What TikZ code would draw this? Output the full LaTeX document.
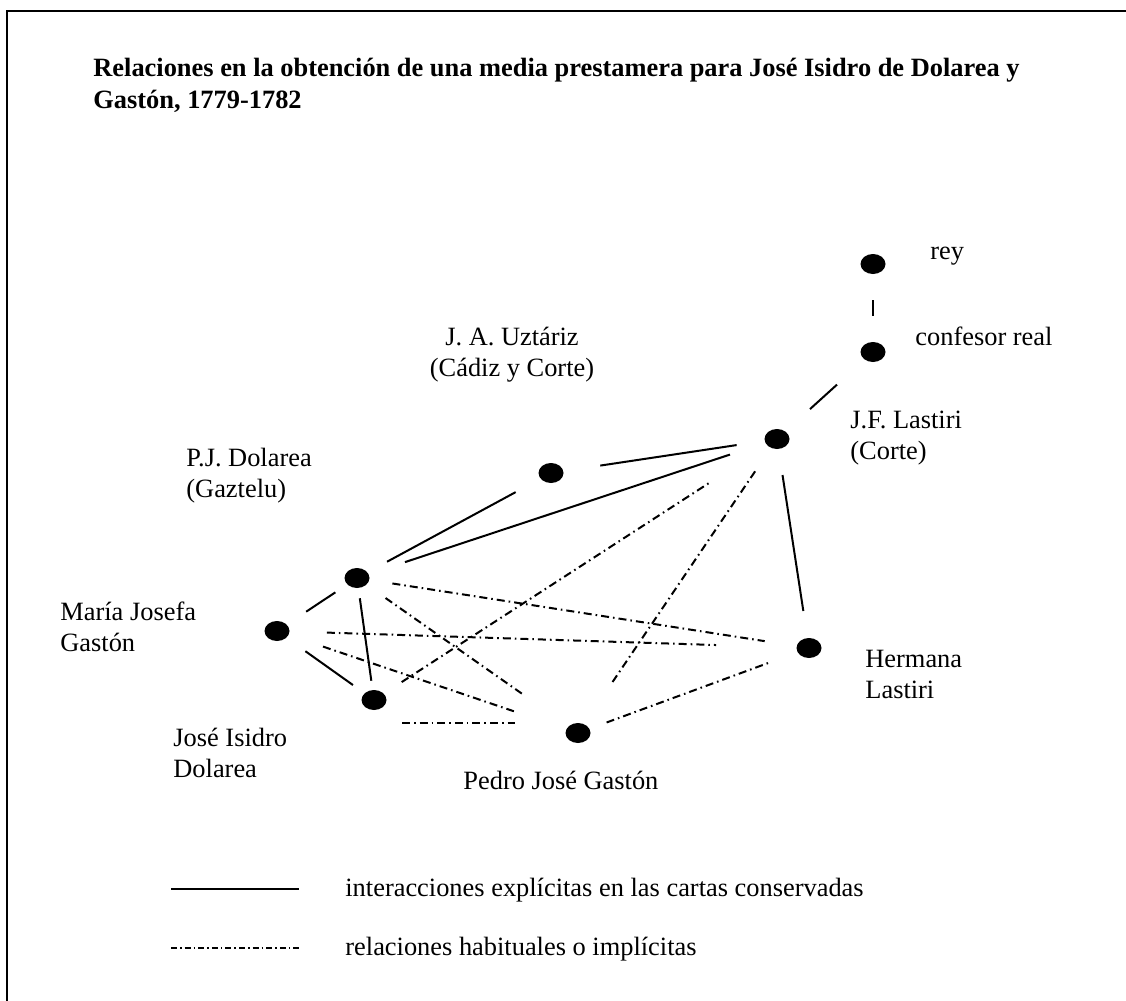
\documentclass[tikz,border=0pt]{standalone}
\usepackage{fontspec}
\setmainfont{Liberation Serif}
\usetikzlibrary{shapes.geometric}

\begin{document}
\begin{tikzpicture}[x=0.5pt, y=-0.5pt,
    person/.style={ellipse, fill=black, minimum width=12.5pt, minimum height=10pt, inner sep=0pt},
    lbl/.style={font=\fontsize{13.2}{15.5}\selectfont, inner sep=0pt, align=left, anchor=west},
    explicit/.style={line width=1pt},
    implicit/.style={line width=1pt, dash pattern=on 4pt off 2pt on 0.8pt off 2pt}]
    \useasboundingbox (0,0) rectangle (1126,1001);

    % Frame
    \draw[line width=1pt] (7,1001) -- (7,11) -- (1126,11);

    % Title
    \node[lbl, font=\fontsize{13.2}{16}\selectfont\bfseries] (title) at (93,85)
        {Relaciones en la obtención de una media prestamera para José Isidro de Dolarea y\\ Gastón, 1779-1782};

    % Nodes
    \node[person] (rey)  at (873,264) {};
    \node[person] (conf) at (873,352) {};
    \node[person] (jfl)  at (777,439) {};
    \node[person] (uzt)  at (551,473) {};
    \node[person] (pjd)  at (357,578) {};
    \node[person] (mjg)  at (277,631) {};
    \node[person] (jid)  at (374,700) {};
    \node[person] (pjg)  at (578,733) {};
    \node[person] (hla)  at (809,648) {};

    % Labels
    \node[lbl] (rey-l)  at (930,256) {rey};
    \node[lbl] (conf-l) at (915,336) {confesor real};
    \node[lbl, anchor=center, align=center] (uzt-l) at (512,355) {J. A. Uztáriz\\ (Cádiz y Corte)};
    \node[lbl] (jfl-l)  at (850,438) {J.F. Lastiri\\ (Corte)};
    \node[lbl] (pjd-l)  at (186,476) {P.J. Dolarea\\ (Gaztelu)};
    \node[lbl] (mjg-l)  at (60,627) {María Josefa\\ Gastón};
    \node[lbl] (jid-l)  at (173,753) {José Isidro\\ Dolarea};
    \node[lbl] (pjg-l)  at (463,780) {Pedro José Gastón};
    \node[lbl] (hla-l)  at (865,674) {Hermana\\ Lastiri};

    % Explicit interactions
    \path[explicit]
        (rey)  edge[shorten <=13pt, shorten >=13pt] (conf)
        (conf) edge[shorten <=18.5pt, shorten >=16.5pt] (jfl)
        (uzt)  edge[shorten <=18.5pt, shorten >=14pt] (jfl)
        (pjd)  edge[shorten <=11pt, shorten >=14pt] (uzt)
               edge[shorten <=19pt, shorten >=18.5pt] (jfl)
        (jfl)  edge[shorten <=13pt, shorten >=13.5pt] (hla)
        (mjg)  edge[shorten <=11.5pt, shorten >=7pt] (pjd)
               edge[shorten <=11.5pt, shorten >=7pt] (jid)
        (pjd)  edge[shorten <=5pt, shorten >=4.5pt] (jid);

    % Habitual or implicit relations
    \path[implicit]
        (jid) edge[shorten <=10.5pt, shorten >=33pt] (jfl)
        (jfl) edge[shorten <=14pt, shorten >=23.5pt] (pjg)
        (pjd) edge[shorten <=11.5pt, shorten >=16pt] (hla)
              edge[shorten <=11.5pt, shorten >=27.5pt] (pjg)
        (mjg) edge[shorten <=18.5pt, shorten >=40pt] (hla)
              edge[shorten <=18pt, shorten >=26.5pt] (pjg)
        (pjg) edge[shorten <=9pt, shorten >=15.5pt] (hla);
    \draw[implicit, shorten <=14pt, shorten >=31.5pt]
        ([yshift=-11.5pt]jid.center) -- ([yshift=5pt]pjg.center);

    % Legend
    \coordinate (ex-a) at (171,889);
    \coordinate (ex-b) at (299,889);
    \coordinate (im-a) at (171,948);
    \coordinate (im-b) at (299,948);
    \draw[explicit] (ex-a) -- (ex-b);
    \draw[implicit, line width=0.8pt, dash pattern=on 3pt off 1.5pt on 0.8pt off 1.5pt] (im-a) -- (im-b);
    \node[lbl] (ex-l) at (345,890) {interacciones explícitas en las cartas conservadas};
    \node[lbl] (im-l) at (345,949) {relaciones habituales o implícitas};
\end{tikzpicture}
\end{document}
